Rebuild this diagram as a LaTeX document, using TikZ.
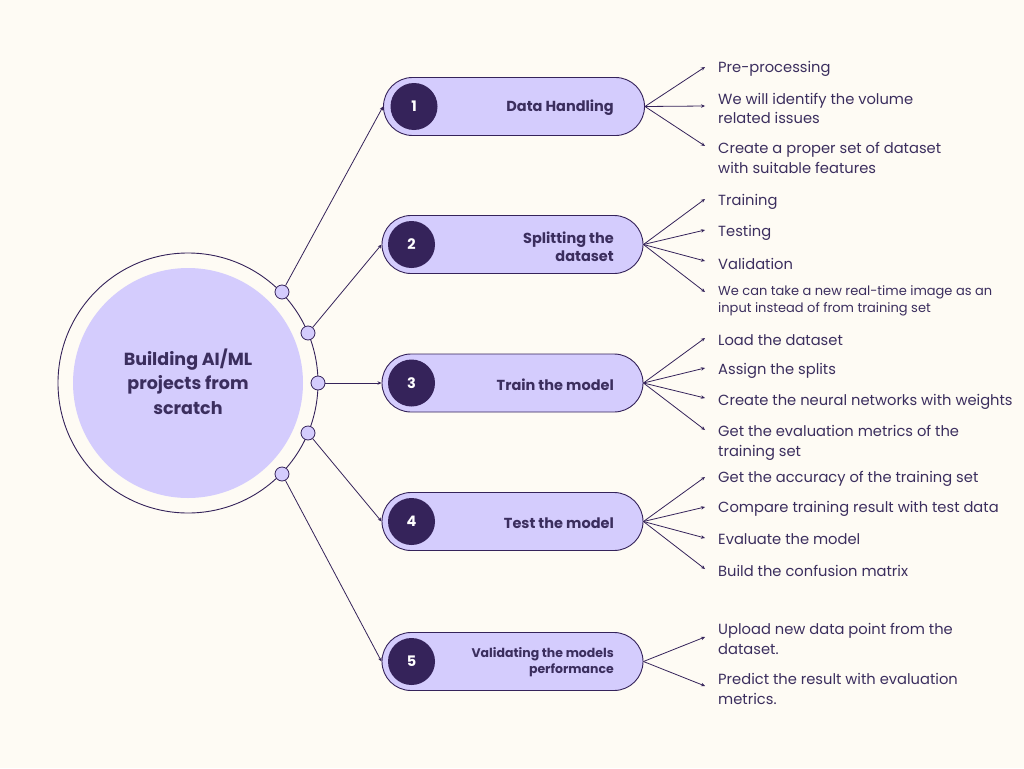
\documentclass[tikz,border=0pt]{standalone}
\usepackage{fontspec}
\setmainfont{Poppins}
\usetikzlibrary{arrows.meta}
\definecolor{bg}{HTML}{FEFBF4}
\definecolor{lav}{HTML}{D4CCFD}
\definecolor{ink}{HTML}{35235A}
\definecolor{txt}{HTML}{3B2E5E}
\begin{document}
\begin{tikzpicture}[x=1pt,y=-1pt,
 conn/.style={draw=ink, line width=0.8pt, -{Stealth[length=4pt,width=3.5pt]}},
 pill/.style={draw=ink, fill=lav, line width=0.9pt, minimum width=261pt, minimum height=58pt, rounded corners=29pt, inner sep=0pt},
 num/.style={circle, fill=ink, minimum size=47pt, inner sep=0pt, text=white, font=\bfseries\fontsize{14.5}{18}\selectfont},
 plabel/.style={anchor=east, align=right, text=txt, font=\bfseries\fontsize{14.5}{18}\selectfont, inner sep=0pt, yshift=-1.5pt},
 item/.style={anchor=west, align=left, text=txt, font=\fontsize{14.7}{19.5}\selectfont, inner sep=0pt, yshift=-1.5pt},
 smallitem/.style={item, font=\fontsize{13}{17}\selectfont},
 dot/.style={circle, draw=ink, fill=lav, line width=0.8pt, minimum size=14pt, inner sep=0pt},
]
\fill[bg] (0,0) rectangle (1024,768);
\useasboundingbox (0,0) rectangle (1024,768);

% central
\node[circle, draw=ink, line width=0.9pt, minimum size=260pt, inner sep=0pt] (ring) at (188,383) {};
\node[circle, fill=lav, minimum size=230pt, inner sep=0pt] (core) at (188,383) {};
\node[align=center, text=txt, font=\bfseries\fontsize{17.5}{24.5}\selectfont, inner sep=0pt] (title) at (188,381.5) {Building AI/ML\\projects from\\scratch};

\node[dot] (d1) at (282,292) {};
\node[dot] (d2) at (308,333) {};
\node[dot] (d3) at (318,383) {};
\node[dot] (d4) at (308,433) {};
\node[dot] (d5) at (282,474) {};

% pills
\node[pill] (p1) at (514,106.5) {};
\node[num] (n1) at (414,106.5) {1};
\node[plabel] (l1) at (614,106.5) {Data Handling};

\node[pill] (p2) at (512.5,244.5) {};
\node[num] (n2) at (411.5,244.5) {2};
\node[plabel] (l2) at (614,245) {Splitting the\\dataset};

\node[pill] (p3) at (512.5,383) {};
\node[num] (n3) at (411.5,383) {3};
\node[plabel] (l3) at (614,383) {Train the model};

\node[pill] (p4) at (512.5,521.5) {};
\node[num] (n4) at (411.5,521.5) {4};
\node[plabel] (l4) at (614,521.5) {Test the model};

\node[pill] (p5) at (512.5,661.5) {};
\node[num] (n5) at (411.5,661.5) {5};
\node[plabel, font=\bfseries\fontsize{12.5}{16}\selectfont] (l5) at (614,661) {Validating the models\\performance};

% left connectors
\draw[conn] (d1) -- (p1.west);
\draw[conn] (d2) -- (p2.west);
\draw[conn] (d3) -- (p3.west);
\draw[conn] (d4) -- (p4.west);
\draw[conn] (d5) -- (p5.west);

% branch ends
\coordinate (e1a) at (705,67);
\coordinate (e1b) at (705,106);
\coordinate (e1c) at (705,146);
\coordinate (e2a) at (705,199);
\coordinate (e2b) at (705,230);
\coordinate (e2c) at (705,261);
\coordinate (e2d) at (705,292);
\coordinate (e3a) at (705,338);
\coordinate (e3b) at (705,368);
\coordinate (e3c) at (705,398);
\coordinate (e3d) at (705,430);
\coordinate (e4a) at (705,477);
\coordinate (e4b) at (705,507);
\coordinate (e4c) at (705,538);
\coordinate (e4d) at (705,569);
\coordinate (e5a) at (705,637);
\coordinate (e5b) at (705,686);

\foreach \e in {e1a,e1b,e1c} \draw[conn] (p1.east) -- (\e);
\foreach \e in {e2a,e2b,e2c,e2d} \draw[conn] (p2.east) -- (\e);
\foreach \e in {e3a,e3b,e3c,e3d} \draw[conn] (p3.east) -- (\e);
\foreach \e in {e4a,e4b,e4c,e4d} \draw[conn] (p4.east) -- (\e);
\foreach \e in {e5a,e5b} \draw[conn] (p5.east) -- (\e);

% items
\node[item] (t1a) at (718,67) {Pre-processing};
\node[item] (t1b) at (718,107) {We will identify the volume\\related issues};
\node[item] (t1c) at (718,156.5) {Create a proper set of dataset\\with suitable features};

\node[item] (t2a) at (718,200) {Training};
\node[item] (t2b) at (718,231) {Testing};
\node[item] (t2c) at (718,262) {Validation};
\node[smallitem] (t2d) at (718,299.5) {We can take a new real-time image as an\\input instead of from training set};

\node[item] (t3a) at (718,339) {Load the dataset};
\node[item] (t3b) at (718,369) {Assign the splits};
\node[item] (t3c) at (718,400) {Create the neural networks with weights};
\node[item] (t3d) at (718,441.5) {Get the evaluation metrics of the\\training set};

\node[item] (t4a) at (718,477) {Get the accuracy of the training set};
\node[item] (t4b) at (718,507) {Compare training result with test data};
\node[item] (t4c) at (718,538) {Evaluate the model};
\node[item] (t4d) at (718,569) {Build the confusion matrix};

\node[item] (t5a) at (718,637.5) {Upload new data point from the\\dataset.};
\node[item] (t5b) at (718,687.5) {Predict the result with evaluation\\metrics.};
\end{tikzpicture}
\end{document}
